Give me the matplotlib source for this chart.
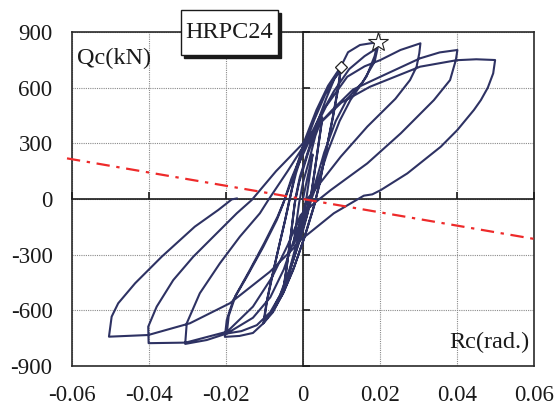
import numpy as np
import matplotlib.pyplot as plt
import matplotlib.transforms as mtransforms
from matplotlib.patches import Rectangle

plt.rcParams['font.family'] = ['Liberation Serif', 'DejaVu Serif']
plt.rcParams['axes.unicode_minus'] = False

# Cyclic loading record, one block per amplitude (Rc in rad, Qc in kN)
rc_c1 = [0, 0.0012, 0.0025, 0.0019, 0.001, 0, -0.0012, -0.0025, -0.0018, -0.001]
qc_c1 = [0, 120, 240, 150, 20, -90, -180, -250, -140, -20]

rc_c2a = [0.0, 0.0015, 0.0032, 0.005, 0.0044, 0.0033, 0.0022, 0.001, -0.0015, -0.0035, -0.005, -0.0043, -0.0032, -0.0022]
qc_c2a = [90, 200, 340, 440, 350, 190, 30, -90, -250, -390, -480, -380, -200, -30]
rc_c2b = [-0.001, 0.0012, 0.0032, 0.005, 0.0043, 0.0031, 0.002, 0.0005, -0.0018, -0.0036, -0.005, -0.0042, -0.003, -0.002]
qc_c2b = [90, 240, 360, 430, 330, 160, 10, -120, -280, -400, -470, -360, -170, 0]

rc_c3a = [-0.0008, 0.0015, 0.0035, 0.006, 0.0082, 0.0098, 0.0092, 0.0078, 0.006, 0.0042, 0.003,
          0.0005, -0.0022, -0.005, -0.0078, -0.0103, -0.0095, -0.0082, -0.0064, -0.0047, -0.0035]
qc_c3a = [120, 270, 400, 540, 650, 710, 610, 450, 260, 80, -30,
          -200, -360, -500, -610, -670, -560, -430, -270, -120, 0]
rc_c3b = [-0.0018, 0.0005, 0.003, 0.0057, 0.008, 0.0098, 0.0091, 0.0077, 0.0058, 0.0042, 0.0028,
          0.0003, -0.0025, -0.0052, -0.008, -0.0101, -0.0093, -0.0079, -0.0062, -0.0045, -0.0033]
qc_c3b = [140, 290, 430, 560, 645, 690, 590, 430, 240, 70, -40,
          -210, -380, -510, -610, -655, -545, -410, -250, -100, 10]

rc_c4a = [-0.002, 0.0005, 0.0035, 0.0065, 0.0098, 0.0117, 0.0148, 0.0178, 0.0194,
          0.0186, 0.0165, 0.0123, 0.0095, 0.0065, 0.0038, 0.0022,
          0.0, -0.003, -0.0055, -0.0081, -0.0103, -0.013, -0.0165, -0.0203,
          -0.0198, -0.0181, -0.0146, -0.0103, -0.0068, -0.0051]
qc_c4a = [150, 320, 480, 610, 712, 791, 830, 840, 845,
          770, 660, 533, 420, 260, 90, 0,
          -170, -360, -500, -607, -670, -722, -738, -743,
          -652, -544, -419, -257, -113, -23]
rc_c4b = [-0.003, 0.0, 0.004, 0.008, 0.012, 0.016, 0.0194,
          0.0186, 0.0155, 0.0115, 0.0085, 0.0055, 0.003, 0.0015,
          -0.001, -0.0035, -0.006, -0.0085, -0.012, -0.016, -0.0198,
          -0.0193, -0.0175, -0.014, -0.01, -0.0066, -0.005]
qc_c4b = [110, 260, 430, 580, 700, 770, 815,
          740, 630, 540, 420, 250, 70, -10,
          -190, -380, -520, -610, -680, -712, -725,
          -630, -520, -390, -235, -95, -15]

rc_c5 = [-0.002, 0.002, 0.006, 0.0115, 0.016, 0.0201, 0.0253, 0.0305,
         0.0302, 0.0295, 0.0278, 0.024, 0.0167, 0.0098, 0.0037, 0.0011,
         -0.002, -0.005, -0.0085, -0.013, -0.0198, -0.025, -0.0306,
         -0.0302, -0.0268, -0.0216, -0.0164, -0.0112, -0.009]
qc_c5 = [150, 330, 500, 659, 715, 749, 803, 839,
         785, 713, 641, 540, 390, 228, 66, 0,
         -200, -380, -530, -640, -725, -760, -781,
         -670, -508, -347, -203, -77, -5]

rc_c6 = [-0.004, 0.0, 0.004, 0.0076, 0.013, 0.0201, 0.0304, 0.0355, 0.0401,
         0.0397, 0.0382, 0.034, 0.0254, 0.0167, 0.0072, 0.0029, -0.0006,
         -0.004, -0.008, -0.013, -0.0197, -0.0305, -0.0401,
         -0.0402, -0.038, -0.0337, -0.0285, -0.0224, -0.0172, -0.0133]
qc_c6 = [150, 280, 400, 480, 590, 659, 758, 790, 803,
         749, 641, 533, 354, 192, 48, -23, -86,
         -250, -420, -580, -715, -774, -777,
         -688, -580, -437, -311, -185, -77, -5]

rc_c7 = [-0.007, 0.0, 0.005, 0.01, 0.0174, 0.0304, 0.0399, 0.045, 0.0499,
         0.0494, 0.048, 0.0462, 0.0444, 0.0401, 0.0358, 0.0271, 0.0202, 0.018, 0.0158, 0.008, -0.0006,
         -0.0025, -0.0086, -0.019, -0.0294, -0.0402, -0.0504,
         -0.0497, -0.048, -0.0436, -0.0367, -0.0281, -0.022, -0.0185, -0.0172]
qc_c7 = [150, 300, 420, 520, 605, 713, 748, 753, 749,
         677, 600, 533, 480, 372, 282, 138, 48, 25, 18, -77, -221,
         -266, -392, -562, -670, -733, -742,
         -634, -562, -454, -311, -149, -59, -2, 3]

# markers: first yield and maximum shear
yield_pt = (0.0098, 712)
max_pt = (0.0194, 845)

# reference line
line_rc = [-0.0613, 0.06]
line_qc = [219, -215]

x_ticks = [-0.06, -0.04, -0.02, 0, 0.02, 0.04, 0.06]
x_labels = ['-0.06', '-0.04', '-0.02', '0', '0.02', '0.04', '0.06']
y_ticks = [-900, -600, -300, 0, 300, 600, 900]
y_labels = ['-900', '-600', '-300', '0', '300', '600', '900']

rc_all = np.concatenate([rc_c1, rc_c2a, rc_c2b, rc_c3a, rc_c3b, rc_c4a, rc_c4b, rc_c5, rc_c6, rc_c7])
qc_all = np.concatenate([qc_c1, qc_c2a, qc_c2b, qc_c3a, qc_c3b, qc_c4a, qc_c4b, qc_c5, qc_c6, qc_c7])

W, H = 558, 417
AX_L, AX_R, AX_T, AX_B = 72, 534, 32, 366

fig = plt.figure(figsize=(W / 100, H / 100), dpi=100)
ax = fig.add_axes([AX_L / W, (H - AX_B) / H, (AX_R - AX_L) / W, (AX_B - AX_T) / H])
ax.set_xlim(-0.06, 0.06)
ax.set_ylim(-900, 900)
ax.set_xticks(x_ticks)
ax.set_xticklabels(x_labels)
ax.set_yticks(y_ticks)
ax.set_yticklabels(y_labels)
ax.tick_params(length=0, pad=14, labelsize=16.5, colors='#1a1a1a')
ax.grid(True, color='#8a8a8a', linestyle=(0, (1, 1)), linewidth=0.8)
ax.set_axisbelow(True)
for s in ax.spines.values():
    s.set_color('#2a2a2a')
    s.set_linewidth(1.2)

# zero axes with inward ticks
ax2 = fig.add_axes(ax.get_position(), sharex=ax, sharey=ax)
ax2.patch.set_visible(False)
ax2.spines['top'].set_visible(False)
ax2.spines['right'].set_visible(False)
ax2.spines['left'].set_position(('data', 0))
ax2.spines['bottom'].set_position(('data', 0))
for s in ['left', 'bottom']:
    ax2.spines[s].set_color('#1a1a1a')
    ax2.spines[s].set_linewidth(1.2)
ax2.tick_params(direction='in', length=5, width=1.2, colors='#1a1a1a',
                labelleft=False, labelbottom=False)
ax2.grid(False)

ax2.plot(rc_all, qc_all, color='#2e3263', linewidth=1.5, zorder=3)
ax2.plot(line_rc, line_qc, color='#ee2a2a', linewidth=1.6,
         dashes=(6, 3, 1.5, 3), zorder=4, clip_on=False)
ax2.plot(*yield_pt, marker='D', markersize=6.5, markerfacecolor='white',
         markeredgecolor='#222222', markeredgewidth=0.9, zorder=5)
ax2.plot(*max_pt, marker='*', markersize=15, markerfacecolor='white',
         markeredgecolor='#222222', markeredgewidth=0.8, zorder=5, clip_on=False)

def ax_frac(px, py):
    return (px - AX_L) / (AX_R - AX_L), (AX_B - py) / (AX_B - AX_T)

ax2.text(*ax_frac(77, 64), 'Qc(kN)', transform=ax2.transAxes,
         fontsize=17.5, color='#1a1a1a', ha='left', va='baseline')
ax2.text(*ax_frac(530, 348), 'Rc(rad.)', transform=ax2.transAxes,
         fontsize=17.5, color='#1a1a1a', ha='right', va='baseline')

# boxed specimen label with drop shadow
bx0, by0 = ax_frac(181, 55)
bx1, by1 = ax_frac(278, 10)
shadow = mtransforms.offset_copy(ax2.transAxes, fig=fig, x=3, y=-3, units='dots')
ax2.add_patch(Rectangle((bx0, by0), bx1 - bx0, by1 - by0, transform=shadow,
                        facecolor='#1a1a1a', edgecolor='#1a1a1a', zorder=6, clip_on=False))
ax2.add_patch(Rectangle((bx0, by0), bx1 - bx0, by1 - by0, transform=ax2.transAxes,
                        facecolor='white', edgecolor='#1a1a1a', linewidth=1.0,
                        zorder=7, clip_on=False))
ax2.text((bx0 + bx1) / 2, (by0 + by1) / 2, 'HRPC24', transform=ax2.transAxes,
         fontsize=17.5, ha='center', va='center', color='#1a1a1a', zorder=8)

fig.savefig('out.png', dpi=100)
